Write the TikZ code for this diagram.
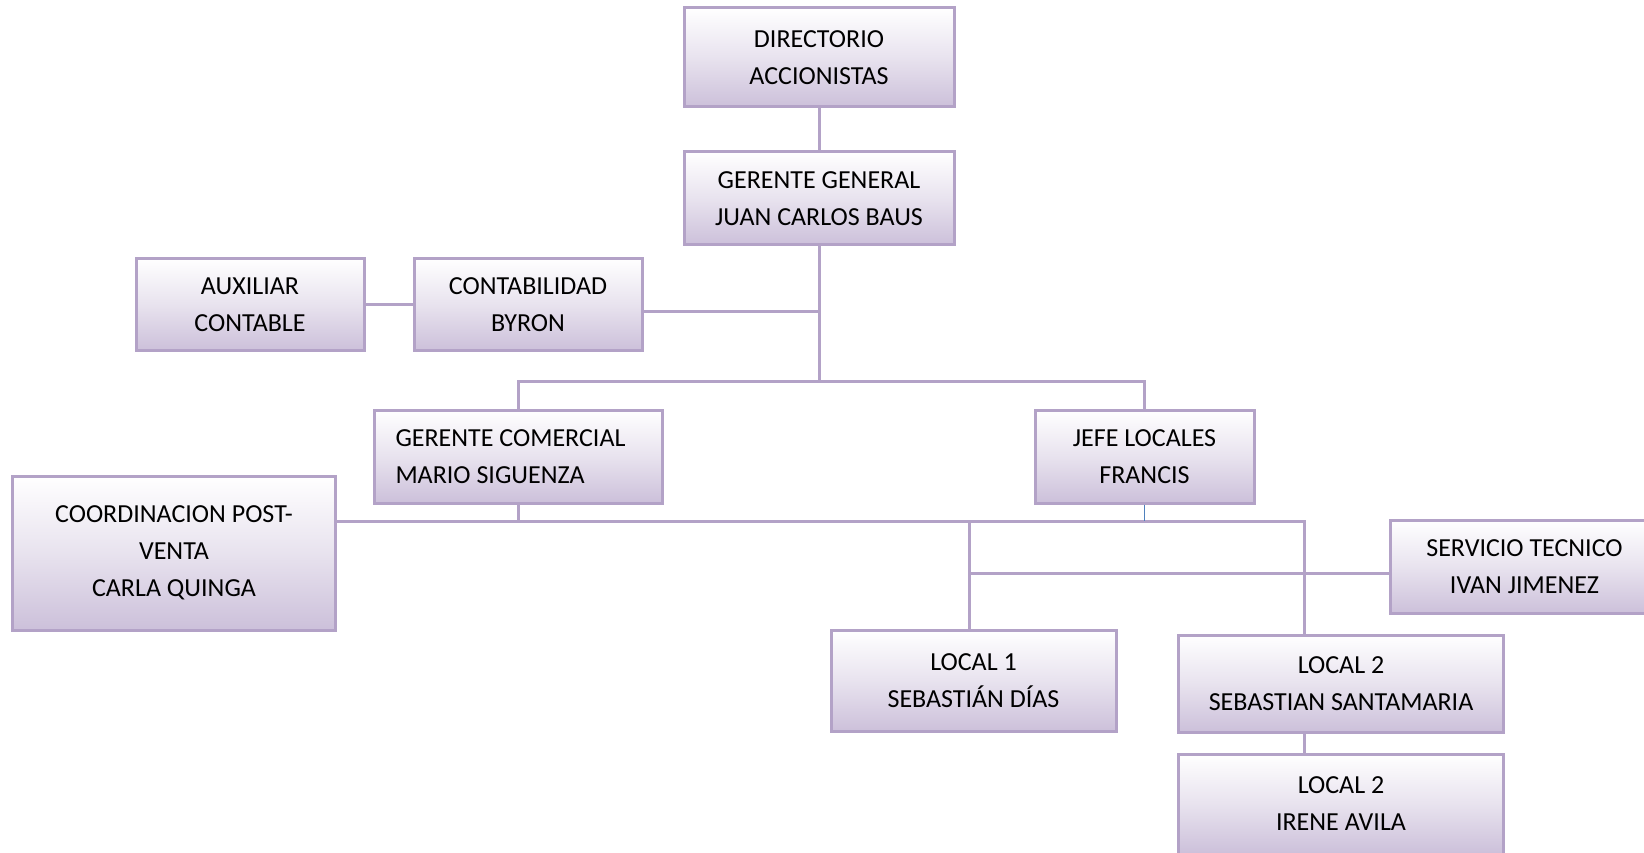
\documentclass[tikz,border=0pt]{standalone}
\usepackage{fontspec}
\setmainfont{Carlito}
\definecolor{frame}{HTML}{B3A2C7}
\definecolor{lav}{HTML}{CCC0DA}
\definecolor{blueline}{HTML}{4F81BD}
\tikzset{
  box/.style={rectangle, draw=frame, line width=3pt, top color=white, bottom color=lav,
    middle color=white!55!lav, align=center, inner sep=0pt,
    font=\fontsize{26}{37}\selectfont, text=black},
  link/.style={draw=frame, line width=3pt},
  thinlink/.style={draw=blueline, line width=1.6pt},
}
\begin{document}
\begin{tikzpicture}[x=1pt,y=-1pt]
\clip (0,0) rectangle (1644,853);
\fill[white] (0,0) rectangle (1644,853);

% boxes
\node[box, minimum width=270, minimum height=99] (dir) at (819,57.5) {DIRECTORIO\\ACCIONISTAS};
\node[box, minimum width=270, minimum height=93] (gg) at (819,198.5) {GERENTE GENERAL\\JUAN CARLOS BAUS};
\node[box, minimum width=228, minimum height=92] (aux) at (250,304.5) {AUXILIAR\\CONTABLE};
\node[box, minimum width=228, minimum height=92] (cont) at (528,304.5) {CONTABILIDAD\\BYRON};
\node[box, minimum width=288, minimum height=93, align=flush left, text width=246pt] (gc) at (518.5,456.5) {GERENTE COMERCIAL\\MARIO SIGUENZA};
\node[box, minimum width=219, minimum height=93] (jl) at (1144.5,456.5) {JEFE LOCALES\\FRANCIS};
\node[box, minimum width=323, minimum height=154] (coord) at (174,553) {COORDINACION POST-\\VENTA\\CARLA QUINGA};
\node[box, minimum width=269, minimum height=93] (serv) at (1524.5,567) {SERVICIO TECNICO\\IVAN JIMENEZ};
\node[box, minimum width=285, minimum height=101] (l1) at (973.5,681) {LOCAL 1\\SEBASTIÁN DÍAS};
\node[box, minimum width=325, minimum height=97] (l2a) at (1341,683.5) {LOCAL 2\\SEBASTIAN SANTAMARIA};
\node[box, minimum width=325, minimum height=100] (l2b) at (1341,804) {LOCAL 2\\IRENE AVILA};

% junction points
\coordinate (hub) at (819,381);
\coordinate (cj) at (819,311);
\coordinate (b2) at (1304,521);
\coordinate (b3) at (969,521);
\coordinate (b4) at (969,573);

% connectors
\draw[link] (dir) -- (gg);
\draw[link] (gg.south) -- (hub);
\draw[link] (cont.east |- cj) -- (cj);
\draw[link] (aux) -- (cont);
\draw[link] (gc.north) |- (jl.north |- hub) -- (jl.north);
\draw[link] (coord.east |- b2) -- (b2) -- (l2a.north -| b2);
\draw[link] (gc.south) -- (gc.south |- b2);
\draw[link] (b3) -- (l1.north -| b3);
\draw[link] (b4) -- (serv.west |- b4);
\draw[link] (l2a.south -| b2) -- (l2b.north -| b2);
\draw[thinlink] (jl.south) -- (jl.south |- b2);
\end{tikzpicture}
\end{document}
